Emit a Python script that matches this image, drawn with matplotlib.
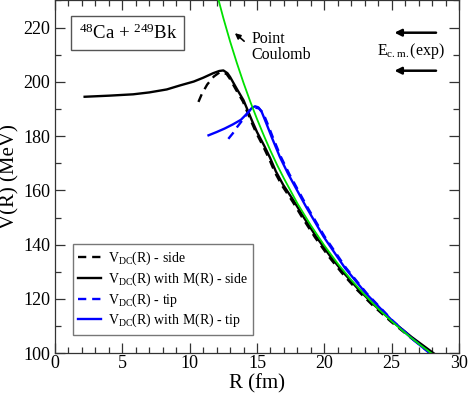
import matplotlib
matplotlib.use("Agg")
import matplotlib.pyplot as plt
from matplotlib.ticker import MultipleLocator

plt.rcParams["font.family"] = ["Liberation Serif", "DejaVu Serif"]
plt.rcParams["mathtext.fontset"] = "custom"
plt.rcParams["mathtext.rm"] = "Liberation Serif"
plt.rcParams["mathtext.it"] = "Liberation Serif:italic"

# point Coulomb (green)
r_coul = [12.15, 12.5, 13.0, 13.5, 14.0, 14.5, 15.0, 15.5, 16.0, 16.5, 17.0, 18.0,
          19.0, 20.0, 21.0, 22.0, 23.0, 24.0, 25.0, 26.0, 27.0, 27.95]
v_coul = [230.0, 223.5, 214.9, 207.0, 199.6, 192.7, 186.3, 180.3, 174.6, 169.3, 164.4, 155.2,
          147.1, 139.7, 133.0, 127.0, 121.5, 116.4, 111.8, 107.5, 103.5, 100.0]

# V_DC(R) with M(R) - side (black solid)
r_side_m = [2.2, 4.0, 5.8, 7.0, 8.3, 9.3, 10.3, 11.0, 11.75, 12.2, 12.5, 12.8, 13.0, 13.5,
            14.0, 14.6, 15.0, 15.53, 15.97, 16.4, 16.95, 17.71, 18.48, 19.39, 20.4, 21.37,
            22.45, 23.65, 25.0, 26.48, 28.12]
v_side_m = [194.5, 194.9, 195.4, 196.1, 197.2, 198.7, 200.1, 201.5, 203.2, 204.0, 204.2, 203.2,
            201.8, 197.4, 193.2, 186.0, 181.5, 176.5, 172.0, 167.0, 162.0, 156.3, 150.0,
            143.0, 136.0, 130.0, 124.0, 118.0, 112.0, 106.0, 100.0]

# V_DC(R) - side (black dashed)
r_side = [10.65, 10.9, 11.3, 11.8, 12.2, 12.45, 12.75, 12.95, 13.45, 13.95, 14.55, 14.95,
          15.47, 15.9, 16.33, 16.88, 17.64, 18.41, 19.32, 20.33, 21.3, 22.38, 23.6, 24.96,
          26.45, 28.08]
v_side = [192.6, 195.5, 199.0, 202.0, 203.4, 203.6, 202.8, 201.4, 197.0, 192.8, 185.6, 181.1,
          176.1, 171.6, 166.6, 161.6, 155.9, 149.6, 142.6, 135.6, 129.6, 123.6, 117.6, 111.6,
          105.6, 99.8]

# V_DC(R) with M(R) - tip (blue solid)
r_tip_m = [11.4, 12.0, 12.6, 13.2, 13.8, 14.3, 14.6, 14.85, 15.1, 15.35, 15.7, 16.1, 16.7,
           17.3, 18.64, 19.94, 21.52, 23.1, 25.04, 26.6, 27.84]
v_tip_m = [180.3, 181.5, 182.8, 184.3, 186.0, 188.5, 190.3, 191.0, 190.6, 188.9, 184.6, 179.5,
           172.3, 166.2, 154.0, 143.0, 131.5, 122.0, 112.0, 105.0, 100.0]

# V_DC(R) - tip (blue dashed)
r_tip = [12.87, 13.2, 13.5, 13.86, 14.2, 14.5, 14.75, 15.15, 15.45, 15.78, 16.18, 16.78,
         17.38, 18.72, 20.02, 21.6, 23.16, 25.08, 26.62, 27.85]
v_tip = [179.0, 181.0, 183.2, 185.5, 187.8, 189.8, 190.6, 190.2, 188.6, 184.6, 179.5, 172.3,
         166.2, 154.0, 143.0, 131.5, 122.0, 112.0, 105.0, 100.0]

# experimental E_cm arrows
e_cm = [218.1, 204.1]

fig = plt.figure(figsize=(4.69, 3.95), dpi=100)
ax = fig.add_axes([0.1173, 0.1056, 0.8614, 0.8934])

ax.plot(r_coul, v_coul, color="#00e000", lw=1.3, zorder=3)
ax.plot(r_side, v_side, color="black", lw=1.7, ls=(0, (3.5, 2.5)), label=r"V$_{\mathrm{DC}}$(R) - side")
ax.plot(r_side_m, v_side_m, color="black", lw=1.7, label=r"V$_{\mathrm{DC}}$(R) with M(R) - side")
ax.plot(r_tip, v_tip, color="#0000ff", lw=1.7, ls=(0, (3.5, 2.5)), label=r"V$_{\mathrm{DC}}$(R) - tip")
ax.plot(r_tip_m, v_tip_m, color="#0000ff", lw=1.7, label=r"V$_{\mathrm{DC}}$(R) with M(R) - tip")

ax.set_xlim(0, 30)
ax.set_ylim(100, 230)
ax.xaxis.set_major_locator(MultipleLocator(5))
ax.xaxis.set_minor_locator(MultipleLocator(1))
ax.yaxis.set_major_locator(MultipleLocator(20))
ax.yaxis.set_minor_locator(MultipleLocator(10))
ax.tick_params(which="both", direction="in", top=True, right=True, labelsize=13, width=0.9,
               color="#333333")
ax.tick_params(which="major", length=7)
ax.tick_params(which="minor", length=4)
ax.tick_params(axis="x", pad=1)
for s in ax.spines.values():
    s.set_linewidth(0.9)
    s.set_color("#333333")

ax.set_xlabel("R (fm)", fontsize=15, labelpad=2)
ax.set_ylabel("V(R) (MeV)", fontsize=15, labelpad=3)

ax.text(1.75, 218.0, r"$^{48}$Ca + $^{249}$Bk", fontsize=13.5, va="center", ha="left",
        bbox=dict(boxstyle="square,pad=0.38", fc="white", ec="#555555", lw=1.0))

ax.annotate("", xy=(13.2, 218.6), xytext=(14.2, 214.3),
            arrowprops=dict(arrowstyle="-|>", color="black", lw=1.2, mutation_scale=8))
ax.text(14.6, 218.8, "Point\nCoulomb", fontsize=11.5, ha="left", va="top", linespacing=1.0)

for e in e_cm:
    ax.annotate("", xy=(25.0, e), xytext=(28.5, e),
                arrowprops=dict(arrowstyle="-|>", color="black", lw=1.8, mutation_scale=10))
ax.text(28.95, 211.5, r"E$_{\mathrm{c.m.}}$(exp)", fontsize=11.5, ha="right", va="center")

leg = ax.legend(loc="lower left", bbox_to_anchor=(0.044, 0.052), fontsize=10, frameon=True,
                fancybox=False, handlelength=1.6, handletextpad=0.5, borderpad=0.4,
                labelspacing=0.25, borderaxespad=0)
leg.get_frame().set_edgecolor("#555555")
leg.get_frame().set_linewidth(1.0)

fig.savefig("out.png", dpi=100)
